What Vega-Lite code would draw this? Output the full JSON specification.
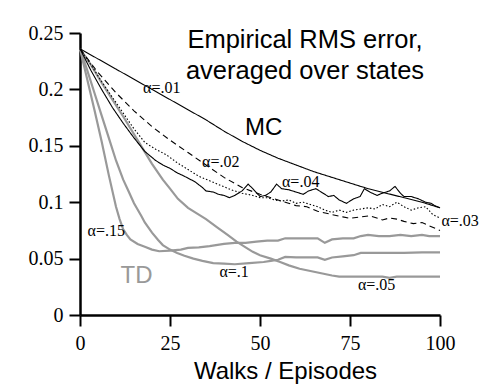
{
  "$schema": "https://vega.github.io/schema/vega-lite/v6.json",
  "autosize": "none",
  "padding": {"left": 80, "top": 33, "right": 62, "bottom": 76},
  "width": 360,
  "height": 282,
  "background": "white",
  "config": {"view": {"stroke": null}},
  "datasets": {
    "td": [
      {"s": "TD .15", "x": 0, "y": 0.236}, {"s": "TD .15", "x": 2, "y": 0.209}, {"s": "TD .15", "x": 4, "y": 0.182}, {"s": "TD .15", "x": 6, "y": 0.154}, {"s": "TD .15", "x": 8, "y": 0.124}, {"s": "TD .15", "x": 10, "y": 0.096}, {"s": "TD .15", "x": 11, "y": 0.085}, {"s": "TD .15", "x": 12, "y": 0.076}, {"s": "TD .15", "x": 13, "y": 0.071}, {"s": "TD .15", "x": 14, "y": 0.067}, {"s": "TD .15", "x": 16, "y": 0.063}, {"s": "TD .15", "x": 18, "y": 0.0605}, {"s": "TD .15", "x": 20, "y": 0.058}, {"s": "TD .15", "x": 22, "y": 0.0565}, {"s": "TD .15", "x": 25, "y": 0.057}, {"s": "TD .15", "x": 28, "y": 0.058}, {"s": "TD .15", "x": 30, "y": 0.0595}, {"s": "TD .15", "x": 33, "y": 0.060}, {"s": "TD .15", "x": 36, "y": 0.061}, {"s": "TD .15", "x": 40, "y": 0.063}, {"s": "TD .15", "x": 43, "y": 0.064}, {"s": "TD .15", "x": 46, "y": 0.064}, {"s": "TD .15", "x": 49, "y": 0.065}, {"s": "TD .15", "x": 52, "y": 0.066}, {"s": "TD .15", "x": 55, "y": 0.066}, {"s": "TD .15", "x": 57, "y": 0.068}, {"s": "TD .15", "x": 60, "y": 0.068}, {"s": "TD .15", "x": 63, "y": 0.068}, {"s": "TD .15", "x": 66, "y": 0.068}, {"s": "TD .15", "x": 68, "y": 0.064}, {"s": "TD .15", "x": 70, "y": 0.067}, {"s": "TD .15", "x": 73, "y": 0.068}, {"s": "TD .15", "x": 76, "y": 0.068}, {"s": "TD .15", "x": 78, "y": 0.070}, {"s": "TD .15", "x": 80, "y": 0.071}, {"s": "TD .15", "x": 83, "y": 0.070}, {"s": "TD .15", "x": 86, "y": 0.070}, {"s": "TD .15", "x": 89, "y": 0.071}, {"s": "TD .15", "x": 92, "y": 0.070}, {"s": "TD .15", "x": 95, "y": 0.071}, {"s": "TD .15", "x": 97, "y": 0.070}, {"s": "TD .15", "x": 100, "y": 0.070},
      {"s": "TD .1", "x": 0, "y": 0.236}, {"s": "TD .1", "x": 2, "y": 0.217}, {"s": "TD .1", "x": 4, "y": 0.197}, {"s": "TD .1", "x": 6, "y": 0.177}, {"s": "TD .1", "x": 8, "y": 0.157}, {"s": "TD .1", "x": 10, "y": 0.137}, {"s": "TD .1", "x": 12, "y": 0.120}, {"s": "TD .1", "x": 13.3, "y": 0.111}, {"s": "TD .1", "x": 15, "y": 0.099}, {"s": "TD .1", "x": 17, "y": 0.088}, {"s": "TD .1", "x": 18, "y": 0.082}, {"s": "TD .1", "x": 20, "y": 0.073}, {"s": "TD .1", "x": 21.7, "y": 0.0665}, {"s": "TD .1", "x": 23, "y": 0.062}, {"s": "TD .1", "x": 25, "y": 0.058}, {"s": "TD .1", "x": 27, "y": 0.055}, {"s": "TD .1", "x": 29, "y": 0.0525}, {"s": "TD .1", "x": 31.5, "y": 0.050}, {"s": "TD .1", "x": 34, "y": 0.048}, {"s": "TD .1", "x": 37, "y": 0.046}, {"s": "TD .1", "x": 40, "y": 0.0455}, {"s": "TD .1", "x": 43, "y": 0.045}, {"s": "TD .1", "x": 47, "y": 0.046}, {"s": "TD .1", "x": 51, "y": 0.047}, {"s": "TD .1", "x": 53, "y": 0.048}, {"s": "TD .1", "x": 55, "y": 0.049}, {"s": "TD .1", "x": 57, "y": 0.0515}, {"s": "TD .1", "x": 60, "y": 0.051}, {"s": "TD .1", "x": 63, "y": 0.051}, {"s": "TD .1", "x": 66, "y": 0.051}, {"s": "TD .1", "x": 68, "y": 0.049}, {"s": "TD .1", "x": 70, "y": 0.051}, {"s": "TD .1", "x": 73, "y": 0.052}, {"s": "TD .1", "x": 76, "y": 0.053}, {"s": "TD .1", "x": 78, "y": 0.055}, {"s": "TD .1", "x": 80, "y": 0.055}, {"s": "TD .1", "x": 85, "y": 0.055}, {"s": "TD .1", "x": 90, "y": 0.055}, {"s": "TD .1", "x": 95, "y": 0.0556}, {"s": "TD .1", "x": 100, "y": 0.0556},
      {"s": "TD .05", "x": 0, "y": 0.236}, {"s": "TD .05", "x": 3, "y": 0.222}, {"s": "TD .05", "x": 6, "y": 0.206}, {"s": "TD .05", "x": 9, "y": 0.191}, {"s": "TD .05", "x": 12, "y": 0.176}, {"s": "TD .05", "x": 16, "y": 0.155}, {"s": "TD .05", "x": 20, "y": 0.134}, {"s": "TD .05", "x": 23, "y": 0.120}, {"s": "TD .05", "x": 25, "y": 0.112}, {"s": "TD .05", "x": 27.2, "y": 0.103}, {"s": "TD .05", "x": 30, "y": 0.095}, {"s": "TD .05", "x": 33, "y": 0.089}, {"s": "TD .05", "x": 35, "y": 0.085}, {"s": "TD .05", "x": 38, "y": 0.078}, {"s": "TD .05", "x": 41, "y": 0.071}, {"s": "TD .05", "x": 43.5, "y": 0.065}, {"s": "TD .05", "x": 46, "y": 0.060}, {"s": "TD .05", "x": 48, "y": 0.056}, {"s": "TD .05", "x": 50, "y": 0.053}, {"s": "TD .05", "x": 53, "y": 0.050}, {"s": "TD .05", "x": 55.6, "y": 0.047}, {"s": "TD .05", "x": 58, "y": 0.044}, {"s": "TD .05", "x": 61, "y": 0.041}, {"s": "TD .05", "x": 64, "y": 0.039}, {"s": "TD .05", "x": 67, "y": 0.037}, {"s": "TD .05", "x": 70, "y": 0.035}, {"s": "TD .05", "x": 72, "y": 0.034}, {"s": "TD .05", "x": 75, "y": 0.034}, {"s": "TD .05", "x": 80, "y": 0.034}, {"s": "TD .05", "x": 84, "y": 0.034}, {"s": "TD .05", "x": 86, "y": 0.033}, {"s": "TD .05", "x": 88, "y": 0.034}, {"s": "TD .05", "x": 92, "y": 0.034}, {"s": "TD .05", "x": 96, "y": 0.034}, {"s": "TD .05", "x": 100, "y": 0.034}
    ],
    "mc": [
      {"s": "MC .01", "x": 0, "y": 0.236}, {"s": "MC .01", "x": 5, "y": 0.227}, {"s": "MC .01", "x": 10, "y": 0.218}, {"s": "MC .01", "x": 15, "y": 0.209}, {"s": "MC .01", "x": 20, "y": 0.200}, {"s": "MC .01", "x": 25, "y": 0.191}, {"s": "MC .01", "x": 30, "y": 0.182}, {"s": "MC .01", "x": 35, "y": 0.173}, {"s": "MC .01", "x": 40, "y": 0.163}, {"s": "MC .01", "x": 45, "y": 0.154}, {"s": "MC .01", "x": 50, "y": 0.146}, {"s": "MC .01", "x": 55, "y": 0.139}, {"s": "MC .01", "x": 60, "y": 0.133}, {"s": "MC .01", "x": 65, "y": 0.127}, {"s": "MC .01", "x": 70, "y": 0.122}, {"s": "MC .01", "x": 75, "y": 0.117}, {"s": "MC .01", "x": 80, "y": 0.112}, {"s": "MC .01", "x": 85, "y": 0.108}, {"s": "MC .01", "x": 90, "y": 0.104}, {"s": "MC .01", "x": 95, "y": 0.100}, {"s": "MC .01", "x": 100, "y": 0.095},
      {"s": "MC .02", "x": 0, "y": 0.236}, {"s": "MC .02", "x": 5, "y": 0.215}, {"s": "MC .02", "x": 10, "y": 0.197}, {"s": "MC .02", "x": 15, "y": 0.181}, {"s": "MC .02", "x": 20, "y": 0.167}, {"s": "MC .02", "x": 25, "y": 0.155}, {"s": "MC .02", "x": 30, "y": 0.144}, {"s": "MC .02", "x": 35, "y": 0.133}, {"s": "MC .02", "x": 40, "y": 0.122}, {"s": "MC .02", "x": 45, "y": 0.113}, {"s": "MC .02", "x": 50, "y": 0.107}, {"s": "MC .02", "x": 55, "y": 0.102}, {"s": "MC .02", "x": 60, "y": 0.097}, {"s": "MC .02", "x": 63, "y": 0.096}, {"s": "MC .02", "x": 66, "y": 0.092}, {"s": "MC .02", "x": 70, "y": 0.089}, {"s": "MC .02", "x": 73, "y": 0.087}, {"s": "MC .02", "x": 75, "y": 0.0857}, {"s": "MC .02", "x": 78, "y": 0.087}, {"s": "MC .02", "x": 80.5, "y": 0.088}, {"s": "MC .02", "x": 84, "y": 0.0843}, {"s": "MC .02", "x": 86, "y": 0.086}, {"s": "MC .02", "x": 88, "y": 0.085}, {"s": "MC .02", "x": 90, "y": 0.083}, {"s": "MC .02", "x": 92.6, "y": 0.081}, {"s": "MC .02", "x": 95, "y": 0.082}, {"s": "MC .02", "x": 97, "y": 0.079}, {"s": "MC .02", "x": 100, "y": 0.075},
      {"s": "MC .03", "x": 0, "y": 0.236}, {"s": "MC .03", "x": 3, "y": 0.222}, {"s": "MC .03", "x": 6, "y": 0.207}, {"s": "MC .03", "x": 9, "y": 0.193}, {"s": "MC .03", "x": 12, "y": 0.179}, {"s": "MC .03", "x": 15, "y": 0.165}, {"s": "MC .03", "x": 18, "y": 0.153}, {"s": "MC .03", "x": 21, "y": 0.147}, {"s": "MC .03", "x": 24, "y": 0.142}, {"s": "MC .03", "x": 27, "y": 0.135}, {"s": "MC .03", "x": 30, "y": 0.129}, {"s": "MC .03", "x": 33, "y": 0.123}, {"s": "MC .03", "x": 36, "y": 0.119}, {"s": "MC .03", "x": 39, "y": 0.115}, {"s": "MC .03", "x": 42, "y": 0.111}, {"s": "MC .03", "x": 45, "y": 0.108}, {"s": "MC .03", "x": 48, "y": 0.106}, {"s": "MC .03", "x": 50, "y": 0.104}, {"s": "MC .03", "x": 52, "y": 0.104}, {"s": "MC .03", "x": 54, "y": 0.102}, {"s": "MC .03", "x": 56, "y": 0.101}, {"s": "MC .03", "x": 58, "y": 0.102}, {"s": "MC .03", "x": 60, "y": 0.099}, {"s": "MC .03", "x": 62, "y": 0.100}, {"s": "MC .03", "x": 64, "y": 0.098}, {"s": "MC .03", "x": 66, "y": 0.096}, {"s": "MC .03", "x": 68, "y": 0.093}, {"s": "MC .03", "x": 70, "y": 0.091}, {"s": "MC .03", "x": 72, "y": 0.093}, {"s": "MC .03", "x": 74, "y": 0.091}, {"s": "MC .03", "x": 76, "y": 0.093}, {"s": "MC .03", "x": 78, "y": 0.094}, {"s": "MC .03", "x": 80, "y": 0.095}, {"s": "MC .03", "x": 82, "y": 0.094}, {"s": "MC .03", "x": 84, "y": 0.098}, {"s": "MC .03", "x": 86, "y": 0.096}, {"s": "MC .03", "x": 88, "y": 0.100}, {"s": "MC .03", "x": 90, "y": 0.096}, {"s": "MC .03", "x": 92, "y": 0.093}, {"s": "MC .03", "x": 94, "y": 0.095}, {"s": "MC .03", "x": 96, "y": 0.096}, {"s": "MC .03", "x": 98, "y": 0.089}, {"s": "MC .03", "x": 100, "y": 0.086},
      {"s": "MC .04", "x": 0, "y": 0.236}, {"s": "MC .04", "x": 3, "y": 0.217}, {"s": "MC .04", "x": 6, "y": 0.200}, {"s": "MC .04", "x": 9, "y": 0.184}, {"s": "MC .04", "x": 12, "y": 0.170}, {"s": "MC .04", "x": 15, "y": 0.157}, {"s": "MC .04", "x": 18, "y": 0.145}, {"s": "MC .04", "x": 21, "y": 0.137}, {"s": "MC .04", "x": 23, "y": 0.133}, {"s": "MC .04", "x": 25, "y": 0.130}, {"s": "MC .04", "x": 27, "y": 0.126}, {"s": "MC .04", "x": 29, "y": 0.123}, {"s": "MC .04", "x": 32, "y": 0.118}, {"s": "MC .04", "x": 34, "y": 0.113}, {"s": "MC .04", "x": 35, "y": 0.110}, {"s": "MC .04", "x": 37, "y": 0.109}, {"s": "MC .04", "x": 38.5, "y": 0.107}, {"s": "MC .04", "x": 40, "y": 0.106}, {"s": "MC .04", "x": 41.5, "y": 0.104}, {"s": "MC .04", "x": 43, "y": 0.106}, {"s": "MC .04", "x": 45, "y": 0.110}, {"s": "MC .04", "x": 46.7, "y": 0.116}, {"s": "MC .04", "x": 48, "y": 0.112}, {"s": "MC .04", "x": 50, "y": 0.105}, {"s": "MC .04", "x": 51.5, "y": 0.106}, {"s": "MC .04", "x": 53, "y": 0.109}, {"s": "MC .04", "x": 54.6, "y": 0.116}, {"s": "MC .04", "x": 56, "y": 0.112}, {"s": "MC .04", "x": 58, "y": 0.111}, {"s": "MC .04", "x": 60, "y": 0.109}, {"s": "MC .04", "x": 62, "y": 0.107}, {"s": "MC .04", "x": 63.5, "y": 0.110}, {"s": "MC .04", "x": 65.5, "y": 0.112}, {"s": "MC .04", "x": 67, "y": 0.109}, {"s": "MC .04", "x": 69, "y": 0.105}, {"s": "MC .04", "x": 70.5, "y": 0.106}, {"s": "MC .04", "x": 72, "y": 0.102}, {"s": "MC .04", "x": 74, "y": 0.099}, {"s": "MC .04", "x": 76, "y": 0.103}, {"s": "MC .04", "x": 77.8, "y": 0.105}, {"s": "MC .04", "x": 79, "y": 0.112}, {"s": "MC .04", "x": 80.5, "y": 0.109}, {"s": "MC .04", "x": 82.5, "y": 0.106}, {"s": "MC .04", "x": 84, "y": 0.108}, {"s": "MC .04", "x": 86, "y": 0.110}, {"s": "MC .04", "x": 87.5, "y": 0.114}, {"s": "MC .04", "x": 89, "y": 0.108}, {"s": "MC .04", "x": 90, "y": 0.105}, {"s": "MC .04", "x": 92, "y": 0.105}, {"s": "MC .04", "x": 94, "y": 0.103}, {"s": "MC .04", "x": 96, "y": 0.100}, {"s": "MC .04", "x": 97.5, "y": 0.099}, {"s": "MC .04", "x": 98.5, "y": 0.097}, {"s": "MC .04", "x": 100, "y": 0.095}
    ]
  },
  "encoding": {
    "x": {"field": "x", "type": "quantitative", "scale": {"domain": [0, 100], "nice": false, "zero": false},
      "axis": {"values": [0, 25, 50, 75, 100], "grid": false, "domainColor": "black", "domainWidth": 2.5, "tickColor": "black", "tickWidth": 2, "tickSize": 11, "labelFont": "Liberation Serif", "labelFontSize": 20, "labelColor": "black", "labelPadding": 7, "labelFlush": false, "title": "Walks / Episodes", "titleFont": "Liberation Sans", "titleFontSize": 24, "titleFontWeight": "normal", "titleColor": "black", "titleX": 205, "titleY": 63, "titleBaseline": "alphabetic", "titleAnchor": "middle", "titleAlign": "center"}},
    "y": {"field": "y", "type": "quantitative", "scale": {"domain": [0, 0.25], "nice": false},
      "axis": {"values": [0, 0.05, 0.1, 0.15, 0.2, 0.25], "format": "~g", "grid": false, "domainColor": "black", "domainWidth": 2.5, "tickColor": "black", "tickWidth": 2, "tickSize": 11, "labelFont": "Liberation Serif", "labelFontSize": 20, "labelColor": "black", "labelPadding": 6, "labelFlush": false, "title": null}}
  },
  "layer": [
    {
      "data": {"name": "td"},
      "mark": {"type": "line", "strokeWidth": 2.2, "color": "#999999"},
      "encoding": {"detail": {"field": "s", "type": "nominal"}}
    },
    {
      "data": {"name": "mc"},
      "mark": {"type": "line", "strokeWidth": 1.1, "color": "black"},
      "encoding": {
        "detail": {"field": "s", "type": "nominal"},
        "strokeDash": {"field": "s", "type": "nominal", "legend": null,
          "scale": {"domain": ["MC .01", "MC .02", "MC .03", "MC .04"], "range": [[1, 0], [6, 4], [1.5, 2], [1, 0]]}}
      }
    },
    {
      "data": {"values": [
        {"t": "α=.01", "x": 22.7, "y": 0.2012},
        {"t": "α=.02", "x": 39.1, "y": 0.1359},
        {"t": "α=.04", "x": 61.3, "y": 0.1178},
        {"t": "α=.03", "x": 105.6, "y": 0.0837},
        {"t": "α=.15", "x": 7.3, "y": 0.0748},
        {"t": "α=.1", "x": 42.8, "y": 0.0384},
        {"t": "α=.05", "x": 82.4, "y": 0.0266}
      ]},
      "mark": {"type": "text", "font": "Liberation Serif", "fontSize": 16, "color": "black", "align": "center", "baseline": "middle"},
      "encoding": {"text": {"field": "t"}}
    },
    {
      "data": {"values": [
        {"t": "MC", "g": "MC", "x": 51, "y": 0.1658},
        {"t": "TD", "g": "TD", "x": 15.7, "y": 0.0344}
      ]},
      "mark": {"type": "text", "font": "Liberation Sans", "fontSize": 24, "align": "center", "baseline": "middle"},
      "encoding": {
        "text": {"field": "t"},
        "color": {"field": "g", "type": "nominal", "legend": null, "scale": {"domain": ["MC", "TD"], "range": ["black", "#999999"]}}
      }
    },
    {
      "data": {"values": [
        {"t": "Empirical RMS error,", "x": 62.5, "y": 0.2364},
        {"t": "averaged over states", "x": 62.5, "y": 0.209}
      ]},
      "mark": {"type": "text", "font": "Liberation Sans", "fontSize": 25.5, "color": "black", "align": "center", "baseline": "alphabetic"},
      "encoding": {"text": {"field": "t"}}
    }
  ]
}
